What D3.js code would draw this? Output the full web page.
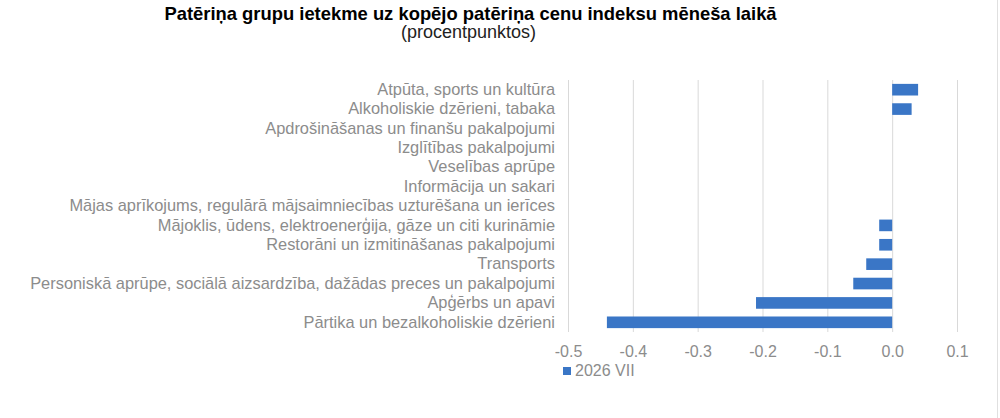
<!DOCTYPE html>
<html>
<head>
<meta charset="utf-8">
<script src="https://cdn.jsdelivr.net/npm/d3@7"></script>
<style>
  body { margin: 0; background: #fff; }
  svg { display: block; font-family: "Liberation Sans", Arial, sans-serif; }
</style>
</head>
<body>
<div id="chart"></div>
<script>
// categories, top to bottom as in the chart
let categories = [
  "Atpūta, sports un kultūra",
  "Alkoholiskie dzērieni, tabaka",
  "Apdrošināšanas un finanšu pakalpojumi",
  "Izglītības pakalpojumi",
  "Veselības aprūpe",
  "Informācija un sakari",
  "Mājas aprīkojums, regulārā mājsaimniecības uzturēšana un ierīces",
  "Mājoklis, ūdens, elektroenerģija, gāze un citi kurināmie",
  "Restorāni un izmitināšanas pakalpojumi",
  "Transports",
  "Personiskā aprūpe, sociālā aizsardzība, dažādas preces un pakalpojumi",
  "Apģērbs un apavi",
  "Pārtika un bezalkoholiskie dzērieni"
];

// 2026 VII, percentage points
let values = [0.04, 0.03, 0, 0, 0, 0, 0, -0.02, -0.02, -0.04, -0.06, -0.21, -0.44];

let xTicks = [-0.5, -0.4, -0.3, -0.2, -0.1, 0.0, 0.1];
let seriesName = "2026 VII";

let title = "Patēriņa grupu ietekme uz kopējo patēriņa cenu indeksu mēneša laikā";
let subtitle = "(procentpunktos)";

let W = 1000, H = 418;
let plot = {left: 568, right: 957, top: 80, bottom: 332};
let barColor = "#3a76c6";
let textColor = "#8c8c8c";

let svg = d3.select("#chart").append("svg")
    .attr("width", W)
    .attr("height", H);

let x = d3.scaleLinear()
    .domain([xTicks[0], xTicks[xTicks.length - 1]])
    .range([plot.left, plot.right]);

let y = d3.scaleBand()
    .domain(categories)
    .range([plot.top, plot.bottom])
    .paddingInner(0.4)
    .paddingOuter(0.2);

// gridlines + tick labels
let xAxis = svg.append("g")
    .attr("transform", "translate(0," + plot.bottom + ")")
    .call(d3.axisBottom(x)
      .tickValues(xTicks)
      .tickFormat(d => d.toFixed(1))
      .tickSize(-(plot.bottom - plot.top))
      .tickPadding(13.6));
xAxis.select(".domain").remove();
xAxis.selectAll(".tick line").attr("stroke", "#d9d9d9");
xAxis.selectAll(".tick text")
    .attr("fill", textColor)
    .style("font-size", "16px");

// bars
svg.selectAll(".bar")
    .data(values)
  .enter().append("rect")
    .attr("class", "bar")
    .attr("x", d => x(Math.min(0, d)))
    .attr("width", d => Math.abs(x(d) - x(0)))
    .attr("y", (d, i) => y(categories[i]))
    .attr("height", y.bandwidth())
    .attr("fill", barColor);

// category labels
let yAxis = svg.append("g")
    .attr("transform", "translate(" + plot.left + ",0)")
    .call(d3.axisLeft(y).tickSize(0).tickPadding(13));
yAxis.select(".domain").remove();
yAxis.selectAll(".tick text")
    .attr("fill", textColor)
    .style("font-size", "16.4px");

// right border of the chart area
svg.append("line")
    .attr("x1", 997.5).attr("x2", 997.5)
    .attr("y1", 0).attr("y2", H)
    .attr("stroke", "#e0e0e0");

// titles
svg.append("text")
    .attr("x", 470.5).attr("y", 19.5)
    .attr("text-anchor", "middle")
    .style("font-size", "18.4px")
    .style("font-weight", "bold")
    .attr("fill", "#000")
    .text(title);
svg.append("text")
    .attr("x", 468.5).attr("y", 38)
    .attr("text-anchor", "middle")
    .style("font-size", "18px")
    .attr("fill", "#222")
    .text(subtitle);

// legend
let legend = svg.append("g").attr("transform", "translate(563,367)");
legend.append("rect")
    .attr("width", 8).attr("height", 8)
    .attr("fill", barColor);
legend.append("text")
    .attr("x", 12).attr("y", 9)
    .attr("fill", textColor)
    .style("font-size", "16px")
    .text(seriesName);
</script>
</body>
</html>
